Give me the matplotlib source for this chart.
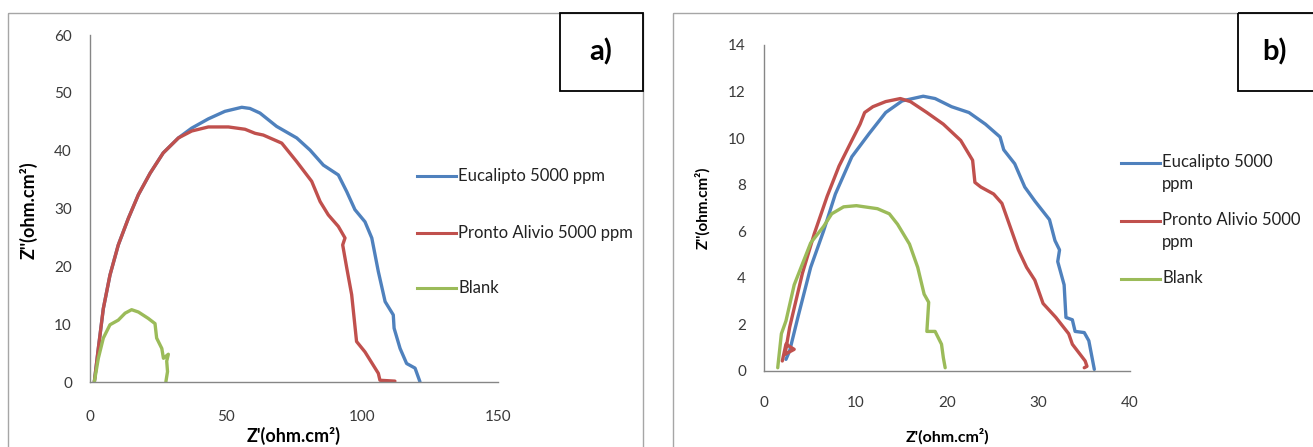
import matplotlib
matplotlib.use("Agg")
import matplotlib.pyplot as plt
from matplotlib.lines import Line2D
from matplotlib.patches import Rectangle
from matplotlib.transforms import Affine2D

plt.rcParams['font.family'] = ['Lato', 'DejaVu Sans']

# ---------------- Panel a) data ----------------
a_euc_x = [1.6, 3.06, 4.9, 7.35, 10.4, 14.1, 17.8, 22.1, 26.9, 32.5, 37.4, 43.5, 49.6,
           55.8, 58.8, 62.5, 68.6, 76.0, 80.9, 85.8, 91.3, 94.4, 97.4, 101.1,
           103.6, 106.0, 108.5, 111.5, 111.8, 114.0, 116.4, 119.5, 121.3]
a_euc_y = [0.05, 5.8, 12.7, 18.5, 23.7, 28.3, 32.4, 36.1, 39.6, 42.2, 43.9, 45.5, 46.8,
           47.5, 47.3, 46.5, 44.2, 42.2, 40.1, 37.5, 35.8, 32.9, 29.8, 27.7,
           24.9, 19.1, 13.9, 11.6, 9.3, 5.8, 3.2, 2.4, 0.05]

a_pro_x = [1.6, 3.06, 4.9, 7.35, 10.4, 14.1, 17.8, 22.1, 26.9, 32.5, 37.4, 43.5, 50.9,
           57.0, 60.7, 63.7, 70.5, 76.0, 81.5, 84.6, 87.6, 91.3, 93.75, 92.9,
           94.4, 96.2, 98.0, 101.1, 106.0, 106.6, 112.1]
a_pro_y = [0.05, 5.8, 12.7, 18.5, 23.7, 28.3, 32.4, 36.1, 39.6, 42.2, 43.4, 44.1, 44.1,
           43.7, 43.0, 42.7, 41.3, 38.1, 34.7, 31.2, 28.9, 26.9, 24.9, 23.7,
           19.7, 15.1, 7.0, 5.2, 1.5, 0.3, 0.15]

a_blk_x = [1.6, 3.06, 4.9, 7.35, 10.4, 12.9, 15.3, 17.8, 21.4, 23.9, 24.5, 26.4, 27.0,
           28.8, 28.2, 28.5, 27.9]
a_blk_y = [0.05, 4.1, 7.6, 9.9, 10.7, 11.9, 12.5, 12.1, 11.0, 10.1, 7.6, 5.8, 4.1,
           4.8, 3.6, 1.8, 0.05]

# ---------------- Panel b) data ----------------
b_euc_x = [2.4, 2.8, 3.7, 5.1, 6.5, 7.8, 9.6, 11.5, 13.3, 15.1, 17.4, 18.7, 20.5,
           22.4, 24.2, 25.8, 26.2, 27.4, 28.5, 29.6, 31.2, 31.8, 32.3, 32.1,
           32.8, 33.0, 33.7, 34.0, 35.0, 35.5, 36.1]
b_euc_y = [0.5, 0.86, 2.3, 4.45, 6.0, 7.6, 9.2, 10.2, 11.1, 11.6, 11.8, 11.7, 11.35,
           11.1, 10.6, 10.05, 9.5, 8.9, 7.9, 7.3, 6.5, 5.6, 5.2, 4.7,
           3.7, 2.3, 2.2, 1.7, 1.65, 1.3, 0.07]

b_pro_x = [2.0, 2.4, 3.3, 2.3, 2.8, 4.2, 5.5, 6.9, 8.2, 9.6, 10.5, 11.0, 11.9, 13.3,
           14.9, 16.0, 17.8, 19.6, 21.5, 22.8, 23.05, 23.7, 25.1, 26.0, 26.9,
           27.8, 28.7, 29.6, 30.5, 31.9, 33.3, 33.7, 35.1, 35.3, 35.0]
b_pro_y = [0.43, 1.15, 0.93, 0.72, 1.87, 4.2, 5.9, 7.5, 8.8, 9.9, 10.6, 11.1, 11.35,
           11.57, 11.7, 11.57, 11.1, 10.6, 9.9, 9.05, 8.1, 7.9, 7.6, 7.2, 6.2,
           5.2, 4.45, 3.9, 2.9, 2.3, 1.6, 1.15, 0.43, 0.2, 0.14]

b_blk_x = [1.5, 1.9, 2.4, 3.3, 4.2, 5.1, 6.5, 7.4, 8.7, 10.1, 12.4, 13.7, 14.6,
           15.9, 16.8, 17.5, 18.0, 17.8, 18.7, 19.4, 19.6, 19.8]
b_blk_y = [0.14, 1.6, 2.15, 3.7, 4.6, 5.5, 6.2, 6.75, 7.05, 7.1, 6.97, 6.75, 6.3,
           5.45, 4.45, 3.3, 2.95, 1.7, 1.7, 1.15, 0.57, 0.14]

series_names_a = ["Eucalipto 5000 ppm", "Pronto Alivio 5000 ppm", "Blank"]
series_names_b = ["Eucalipto 5000\nppm", "Pronto Alivio 5000\nppm", "Blank"]
colors = ["#4F81BD", "#C0504D", "#9BBB59"]

a_xticks = [0, 50, 100, 150]
a_yticks = [0, 10, 20, 30, 40, 50, 60]
b_xticks = [0, 10, 20, 30, 40]
b_yticks = [0, 2, 4, 6, 8, 10, 12, 14]

W, H = 1313, 447
DPI = 100
fig = plt.figure(figsize=(W / DPI, H / DPI), dpi=DPI)

# pixel-space transform (origin top-left)
pix = Affine2D().scale(1.0 / W, -1.0 / H).translate(0, 1) + fig.transFigure


def px_axes(left, top, right, bottom):
    return fig.add_axes([left / W, (H - bottom) / H, (right - left) / W, (bottom - top) / H])


axis_grey = "#868686"
frame_grey = "#A6A6A6"
lw = 2.4
tick_color = "#3a3a3a"


def style_axes(ax, xticks, yticks, xpad, ypad):
    for s in ("top", "right"):
        ax.spines[s].set_visible(False)
    for s in ("left", "bottom"):
        ax.spines[s].set_color(axis_grey)
        ax.spines[s].set_linewidth(1.0)
    ax.set_xticks(xticks)
    ax.set_yticks(yticks)
    ax.set_xlim(xticks[0], xticks[-1])
    ax.set_ylim(yticks[0], yticks[-1])
    ax.tick_params(axis="x", length=0, pad=xpad, labelsize=11, colors=tick_color)
    ax.tick_params(axis="y", length=0, pad=ypad, labelsize=11, colors=tick_color)
    ax.patch.set_alpha(0)


def plot_series(ax, xs, ys, c):
    ax.plot(xs, ys, color=c, lw=lw, solid_joinstyle="round", solid_capstyle="round")


# outer chart frames
fig.patches.append(Rectangle((8, 13), 635, 460, transform=pix, fill=False,
                             edgecolor=frame_grey, linewidth=1.0))
fig.patches.append(Rectangle((673, 13), 660, 460, transform=pix, fill=False,
                             edgecolor=frame_grey, linewidth=1.0))

# ---------------- Panel a) ----------------
ax1 = px_axes(90, 35, 498, 382)
plot_series(ax1, a_euc_x, a_euc_y, colors[0])
plot_series(ax1, a_pro_x, a_pro_y, colors[1])
plot_series(ax1, a_blk_x, a_blk_y, colors[2])
style_axes(ax1, a_xticks, a_yticks, 20, 13)
fig.text(294, 436, "Z'(ohm.cm²)", transform=pix, ha="center", va="center",
         fontsize=13, fontweight="bold")
fig.text(29, 210, "Z''(ohm.cm²)", transform=pix, ha="center", va="center",
         fontsize=13, fontweight="bold", rotation=90)

# ---------------- Panel b) ----------------
ax2 = px_axes(764, 45, 1130, 371)
plot_series(ax2, b_euc_x, b_euc_y, colors[0])
plot_series(ax2, b_pro_x, b_pro_y, colors[1])
plot_series(ax2, b_blk_x, b_blk_y, colors[2])
style_axes(ax2, b_xticks, b_yticks, 18, 13)
fig.text(947, 436, "Z'(ohm.cm²)", transform=pix, ha="center", va="center",
         fontsize=11.5, fontweight="bold")
fig.text(703, 208, "Z''(ohm.cm²)", transform=pix, ha="center", va="center",
         fontsize=11, fontweight="bold", rotation=90)

# ---------------- legends ----------------
for (y, name, c) in zip([176, 233, 288], series_names_a, colors):
    fig.lines.append(Line2D([417, 456], [y, y], transform=pix, color=c, lw=2.2))
    fig.text(458, y, name, transform=pix, ha="left", va="center", fontsize=12, color="#222222")

for (y, name, c) in zip([163, 221, 279], series_names_b, colors):
    fig.lines.append(Line2D([1121, 1160], [y, y], transform=pix, color=c, lw=2.2))
    fig.text(1162, y - 9, name, transform=pix, ha="left", va="top", fontsize=12,
             color="#222222", linespacing=1.45)

# ---------------- panel tags ----------------
fig.patches.append(Rectangle((560, 13), 83, 78, transform=pix, fill=False,
                             edgecolor="black", linewidth=1.3))
fig.text(601, 52, "a)", transform=pix, ha="center", va="center", fontsize=21, fontweight="bold")
fig.patches.append(Rectangle((1238, 13), 90, 78, transform=pix, fill=False,
                             edgecolor="black", linewidth=1.3))
fig.text(1274, 52, "b)", transform=pix, ha="center", va="center", fontsize=21, fontweight="bold")

fig.savefig("out.png", dpi=DPI)
